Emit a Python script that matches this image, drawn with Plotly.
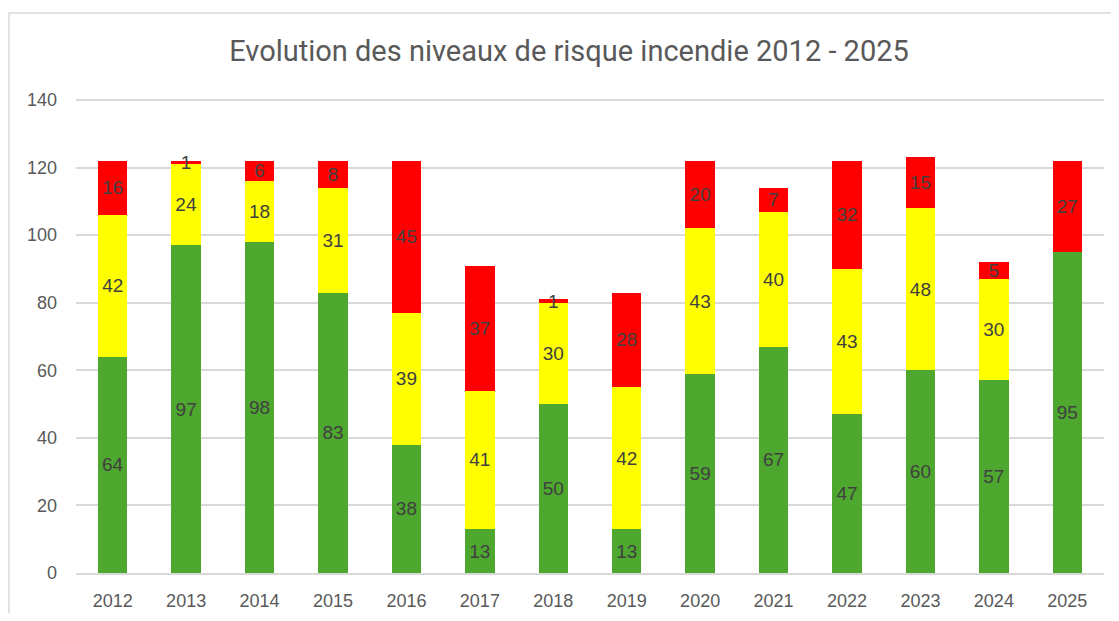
import plotly.graph_objects as go

years = ["2012", "2013", "2014", "2015", "2016", "2017", "2018", "2019",
         "2020", "2021", "2022", "2023", "2024", "2025"]
vert = [64, 97, 98, 83, 38, 13, 50, 13, 59, 67, 47, 60, 57, 95]
jaune = [42, 24, 18, 31, 39, 41, 30, 42, 43, 40, 43, 48, 30, 0]
rouge = [16, 1, 6, 8, 45, 37, 1, 28, 20, 7, 32, 15, 5, 27]

series = [
    ("Vert", vert, "#4ea72e"),
    ("Jaune", jaune, "#ffff00"),
    ("Rouge", rouge, "#ff0000"),
]

FONT = "Liberation Sans"
TITLE_FONT = "Roboto"
OFF = 8  # default body margin of the html page

fig = go.Figure()
for name, vals, col in series:
    fig.add_trace(go.Bar(
        x=years,
        y=[v if v else None for v in vals],
        name=name,
        marker=dict(color=col, line=dict(width=0)),
        text=[str(v) if v else "" for v in vals],
        textposition="inside",
        insidetextanchor="middle",
        textangle=0,
        textfont=dict(color="#404040", size=19, family=FONT),
        cliponaxis=False,
    ))

# page = 1119 x 621; figure sits at (8, 8) and must fit inside the page
W, H = 1119 - 2 * OFF, 621 - 2 * OFF
PLOT_L, PLOT_R, PLOT_T, PLOT_B = 76, 1104, 99, 573  # page coordinates
L, R = PLOT_L - OFF, W - (PLOT_R - OFF)
T, B = PLOT_T - OFF, H - (PLOT_B - OFF)
pw, ph = W - L - R, H - T - B

def px(x):
    return (x - OFF - L) / pw

def py(y):
    return (H - B - (y - OFF)) / ph

fig.update_layout(
    barmode="stack",
    bargap=0.6,
    width=W, height=H,
    margin=dict(l=L, r=R, t=T, b=B, autoexpand=False),
    plot_bgcolor="white",
    paper_bgcolor="white",
    showlegend=False,
    uniformtext=dict(minsize=19, mode="show"),
    font=dict(family=FONT, color="#595959"),
    title=dict(
        text="Evolution des niveaux de risque incendie 2012 - 2025",
        x=(569 - OFF) / W, xref="container", xanchor="center",
        y=1 - (51 - OFF) / H, yanchor="middle",
        font=dict(size=29, color="#595959", family=TITLE_FONT),
    ),
    xaxis=dict(
        automargin=False,
        showgrid=False, showline=True, linecolor="#d9d9d9", linewidth=1.5,
        ticks="", tickfont=dict(size=18, color="#595959"),
        ticklabelstandoff=11,
    ),
    yaxis=dict(
        automargin=False,
        range=[0, 140.3], dtick=20, tick0=0,
        showgrid=True, gridcolor="#d9d9d9", gridwidth=1.5,
        zeroline=False, showline=False, ticks="",
        tickfont=dict(size=18, color="#595959"),
        ticklabelstandoff=18,
    ),
    shapes=[dict(
        type="rect", xref="paper", yref="paper",
        x0=px(9), x1=px(1140), y0=py(640), y1=py(13),
        line=dict(color="#d9d9d9", width=1.5), fillcolor="rgba(0,0,0,0)",
        layer="below",
    )],
)

fig.write_html("out.html")
